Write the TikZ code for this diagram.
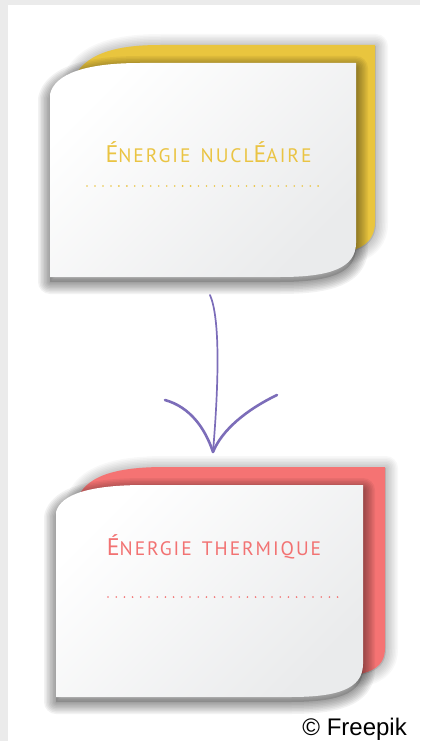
\documentclass[tikz,border=0pt]{standalone}
\usepackage{fontspec}
\setmainfont{Liberation Sans}
\newfontfamily\titlefont[LetterSpace=10]{PT Sans}
\definecolor{bggray}{HTML}{EBEBEB}
\definecolor{yel}{HTML}{E9C53E}
\definecolor{yeltxt}{HTML}{EAC443}
\definecolor{sal}{HTML}{F57373}
\definecolor{saltxt}{HTML}{F27272}
\definecolor{purp}{HTML}{7C6DB9}
\definecolor{cardlo}{HTML}{EAEBEC}
\newcommand{\capE}{{\fontsize{24}{25}\selectfont É}}
% card outlines
\newcommand{\pathAback}{(70,88) .. controls (78,56) and (110,45) .. (160,45) -- (375,45) -- (375,222)
   .. controls (375,238) and (366,247) .. (350,251) -- (80,251) -- cycle}
\newcommand{\pathAfront}{(50,94) .. controls (55,74) and (85,63) .. (140,63) -- (356,63) -- (356,243)
   .. controls (356,268) and (330,277) .. (280,277) -- (50,277) -- cycle}
\newcommand{\pathBback}{(76,502) .. controls (84,476) and (115,467) .. (165,467) -- (385,467) -- (385,648)
   .. controls (385,662) and (378,670) .. (360,674) -- (90,674) -- cycle}
\newcommand{\pathBfront}{(56,512) .. controls (61,494) and (90,485) .. (145,485) -- (363,485) -- (363,664)
   .. controls (363,690) and (335,697) .. (290,697) -- (56,697) -- cycle}
\tikzset{
  shadowstroke/.style={draw=black, draw opacity=#1, line join=round},
  shadowfill/.style={fill=black, fill opacity=#1},
  frontcard/.style={top color=white, bottom color=cardlo, shading angle=45},
  title/.style={font=\titlefont\fontsize{19.5}{21}\selectfont, anchor=base, inner sep=0pt},
  arrowline/.style={draw=purp, line cap=round, line join=round}
}
\newcommand{\softshadow}[5]{% path, xshift, yshift, opacity per layer, fill opacity
  \begin{scope}[shift={(#2,#3)}]
    \path[shadowfill=#5] #1;
    \foreach \w in {24,21,...,3} \path[shadowstroke=#4, line width=\w pt] #1;
  \end{scope}}
\begin{document}
\begin{tikzpicture}[x=1pt,y=-1pt]
\useasboundingbox (0,0) rectangle (420,741);
\fill[bggray] (0,0) rectangle (420,741);
\fill[white] (8,5) rectangle (420,741);

% ---- card 1 (yellow)
\softshadow{\pathAback}{1}{1}{0.028}{0.1}
\fill[yel] \pathAback;
\softshadow{\pathAfront}{0}{5}{0.05}{0.15}
\path[frontcard] \pathAfront;
\node[title, text=yeltxt] (t1) at (208.5,162) {\capE NERGIE\hspace{3pt} NUCL\capE AIRE};
\foreach \i in {0,...,29} \fill[yeltxt] (87+\i*7.97,186) circle (0.9);

% ---- card 2 (salmon)
\softshadow{\pathBback}{1}{1}{0.028}{0.1}
\fill[sal] \pathBback;
\softshadow{\pathBfront}{0}{5}{0.05}{0.15}
\path[frontcard] \pathBfront;
\node[title, text=saltxt] (t2) at (214,555) {\capE NERGIE\hspace{3pt} THERMIQUE};
\foreach \i in {0,...,28} \fill[saltxt] (108+\i*8.2,597) circle (0.9);

% ---- arrow
\coordinate (atop) at (210,295);
\coordinate (atip) at (213,452);
\coordinate (al) at (165,400);
\coordinate (ar) at (277,395);
\draw[arrowline, line width=1.7pt] (atop) .. controls (220,318) and (219,380) .. (atip);
\draw[arrowline, line width=2.6pt] (al) .. controls (190,407) and (205,428) .. (atip);
\draw[arrowline, line width=2.6pt] (ar) .. controls (246,410) and (222,430) .. (atip);

% ---- credit
\node[anchor=base east, inner sep=0pt, font=\fontsize{24}{26}\selectfont] (cr) at (407,735) {© Freepik};
\end{tikzpicture}
\end{document}
